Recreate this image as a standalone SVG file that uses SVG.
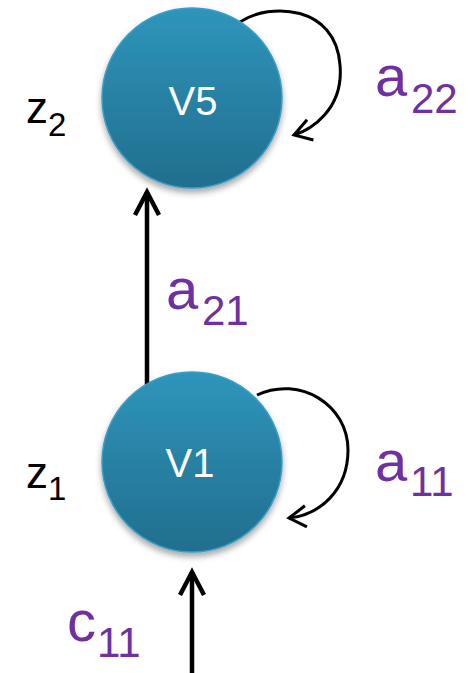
<svg xmlns="http://www.w3.org/2000/svg" width="473" height="673" viewBox="0 0 473 673">
<style>
.node{fill:url(#g);stroke:#3B9DC4;stroke-width:1.5;filter:url(#sh)}
.nl{font-family:"Liberation Sans",Arial,sans-serif;font-size:40px;fill:#fff;text-anchor:middle}
.main{fill:none;stroke:#000;stroke-width:4.5}
.loop{fill:none;stroke:#000;stroke-width:3}
.z{font-family:"Liberation Sans",Arial,sans-serif;fill:#000}
.p{font-family:"Liberation Sans",Arial,sans-serif;fill:#7030A0}
</style>
<defs>
<linearGradient id="g" x1="0" y1="0" x2="0" y2="1">
<stop offset="0" stop-color="#2F95BB"/>
<stop offset="1" stop-color="#216E8E"/>
</linearGradient>
<filter id="sh" x="-20%" y="-20%" width="140%" height="140%">
<feDropShadow dx="0" dy="4" stdDeviation="3" flood-color="#000" flood-opacity="0.35"/>
</filter>
<marker id="mh" markerUnits="userSpaceOnUse" orient="auto" overflow="visible" refX="0" refY="0" markerWidth="30" markerHeight="30">
<path d="M -23 -12 L 0 0 L -23 12" fill="none" stroke="#000" stroke-width="4.5"/>
</marker>
<marker id="ml" markerUnits="userSpaceOnUse" orient="auto" overflow="visible" refX="0" refY="0" markerWidth="30" markerHeight="30">
<path d="M -17 -10.6 L 0 0 L -17 10.6" fill="none" stroke="#000" stroke-width="3"/>
</marker>
</defs>
<g id="connectors">
<line class="main" x1="147" y1="386" x2="147" y2="192" marker-end="url(#mh)"/>
<line class="main" x1="192" y1="673" x2="192" y2="572" marker-end="url(#mh)"/>
<path class="loop" d="M 240 22 C 270 2, 336 5, 340 65 C 344 110, 310 130, 294 135" marker-end="url(#ml)"/>
<path class="loop" d="M 257 395 C 300 375, 348 405, 348 450 C 348 490, 320 515, 289 518" marker-end="url(#ml)"/>
</g>
<g id="V5">
<circle class="node" cx="192" cy="98" r="90"/>
<text class="nl" x="193" y="115">V5</text>
</g>
<g id="V1">
<circle class="node" cx="192" cy="462" r="90"/>
<text class="nl" x="190" y="477">V1</text>
</g>
<g id="labels">
<text class="z" x="26" y="123" font-size="44">z</text>
<text class="z" x="48" y="136" font-size="33">2</text>
<text class="z" x="26" y="488" font-size="44">z</text>
<text class="z" x="48" y="500" font-size="33">1</text>
<text class="p" x="375" y="96" font-size="58">a</text>
<text class="p" x="411" y="113" font-size="42">22</text>
<text class="p" x="166" y="309" font-size="58">a</text>
<text class="p" x="202" y="325" font-size="42">21</text>
<text class="p" x="375" y="481" font-size="58">a</text>
<text class="p" x="410" y="496" font-size="42">11</text>
<text class="p" x="67" y="641" font-size="58">c</text>
<text class="p" x="97" y="657" font-size="42">11</text>
</g>
</svg>
